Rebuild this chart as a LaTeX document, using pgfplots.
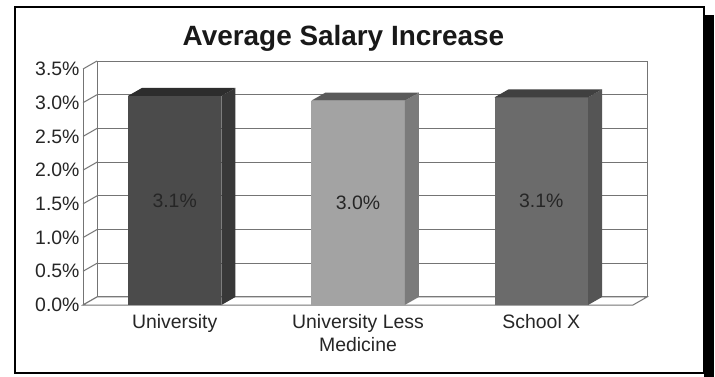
\documentclass[border=0pt]{standalone}
\usepackage{pgfplots}
\pgfplotsset{compat=1.18}
\usepackage{pgfplotstable}
\usepackage{fontspec}
\setmainfont{Liberation Sans}

\pgfplotstableread{
x v
0 3.10
1 3.03
2 3.08
}\salary
\pgfplotstablegetelem{0}{v}\of\salary \let\valA\pgfplotsretval
\pgfplotstablegetelem{1}{v}\of\salary \let\valB\pgfplotsretval
\pgfplotstablegetelem{2}{v}\of\salary \let\valC\pgfplotsretval

\definecolor{frontA}{HTML}{4B4B4B}
\definecolor{sideA}{HTML}{383838}
\definecolor{topA}{HTML}{2D2D2D}
\definecolor{frontB}{HTML}{A3A3A3}
\definecolor{sideB}{HTML}{7B7B7B}
\definecolor{topB}{HTML}{5A5A5A}
\definecolor{frontC}{HTML}{6B6B6B}
\definecolor{sideC}{HTML}{555555}
\definecolor{topC}{HTML}{404040}
\definecolor{wall}{HTML}{747474}

% depth faces of a bar: #1 centre, #2 value, #3 side colour, #4 top colour
\newcommand\barfaces[4]{%
  \fill[#3] (axis cs:#1+0.255,0) -- ([shift={(14bp,8bp)}]axis cs:#1+0.255,0)
     -- ([shift={(14bp,8bp)}]axis cs:#1+0.255,#2) -- (axis cs:#1+0.255,#2) -- cycle;
  \fill[#4] (axis cs:#1-0.255,#2) -- (axis cs:#1+0.255,#2)
     -- ([shift={(14bp,8bp)}]axis cs:#1+0.255,#2) -- ([shift={(14bp,8bp)}]axis cs:#1-0.255,#2) -- cycle;
  \node[font=\fontsize{19.5}{23}\selectfont, text=black!85] at (axis cs:#1,#2/2)
     {\pgfmathprintnumber[fixed,fixed zerofill,precision=1,assume math mode=true]{#2}\%};
}

\begin{document}
\begin{tikzpicture}
\path[use as bounding box] (0bp,0bp) rectangle (715bp,377bp);
\fill[white] (0bp,0bp) rectangle (715bp,377bp);
\node[font=\fontsize{28}{32}\selectfont\bfseries, anchor=base, text=black!90] at (343.5bp,331bp) {Average Salary Increase};
\begin{axis}[
  at={(83bp,72bp)}, anchor=south west,
  scale only axis, width=550bp, height=236bp,
  xmin=-0.5, xmax=2.5, ymin=0, ymax=3.5,
  axis line style={draw=none},
  major tick length=0pt,
  ytick={0,0.5,1,1.5,2,2.5,3,3.5},
  yticklabel={\pgfmathprintnumber[fixed,fixed zerofill,precision=1]{\tick}\%},
  /pgf/number format/assume math mode=true,
  tick label style={font=\fontsize{19.5}{23}\selectfont, text=black!85},
  xtick={0,1,2},
  xticklabels={University, University Less\\Medicine, School X},
  xticklabel style={align=center, yshift=-6bp},
  clip=false,
]
% back wall
\draw[wall, line width=1bp, fill=white] ([shift={(14bp,8bp)}]axis cs:-0.5,0) rectangle ([shift={(14bp,8bp)}]axis cs:2.5,3.5);
% grid lines on back wall and left wall
\pgfplotsinvokeforeach{0.5,1,1.5,2,2.5,3}{
  \draw[wall, line width=1bp] ([shift={(14bp,8bp)}]axis cs:-0.5,#1) -- ([shift={(14bp,8bp)}]axis cs:2.5,#1);
}
\pgfplotsinvokeforeach{0,0.5,1,1.5,2,2.5,3,3.5}{
  \draw[wall, line width=1bp] (axis cs:-0.5,#1) -- ([shift={(14bp,8bp)}]axis cs:-0.5,#1);
}
% left wall front edge
\draw[wall, line width=1bp] (axis cs:-0.5,0) -- (axis cs:-0.5,3.5);
% floor
\draw[wall, line width=1bp, fill=white] (axis cs:-0.5,0) -- (axis cs:2.5,0)
   -- ([shift={(14bp,8bp)}]axis cs:2.5,0) -- ([shift={(14bp,8bp)}]axis cs:-0.5,0) -- cycle;
% bars (front faces)
\addplot[ybar, bar shift=0pt, bar width=0.51, fill=frontA, draw=none, restrict x to domain=-0.1:0.1] table[x=x,y=v]{\salary};
\addplot[ybar, bar shift=0pt, bar width=0.51, fill=frontB, draw=none, restrict x to domain=0.9:1.1] table[x=x,y=v]{\salary};
\addplot[ybar, bar shift=0pt, bar width=0.51, fill=frontC, draw=none, restrict x to domain=1.9:2.1] table[x=x,y=v]{\salary};
\barfaces{0}{\valA}{sideA}{topA}
\barfaces{1}{\valB}{sideB}{topB}
\barfaces{2}{\valC}{sideC}{topC}
\end{axis}
% frame with drop shadow
\fill[black] (704bp,-2bp) rectangle (713.5bp,362bp);
\draw[line width=2bp] (15bp,4bp) rectangle (704bp,370bp);
\end{tikzpicture}
\end{document}
